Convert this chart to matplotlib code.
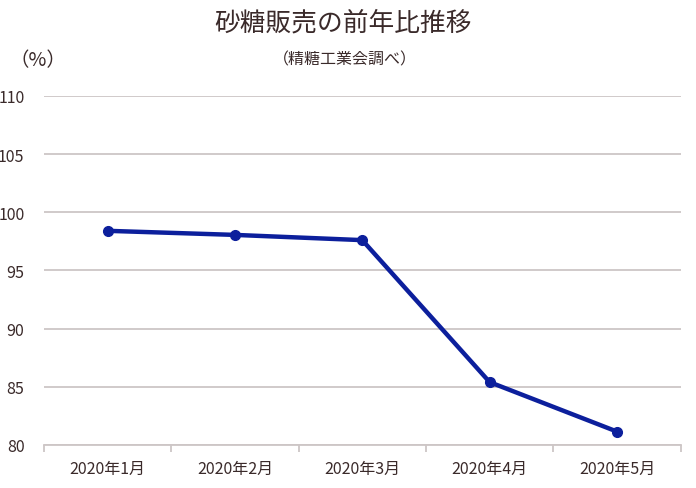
import matplotlib
matplotlib.use("Agg")
from matplotlib import pyplot as plt
import numpy as np

plt.rcParams['font.family'] = ['Noto Sans CJK JP', 'DejaVu Sans']

months = ["2020年1月", "2020年2月", "2020年3月", "2020年4月", "2020年5月"]
values = [98.4, 98.05, 97.6, 85.4, 81.15]
yticks = [80, 85, 90, 95, 100, 105, 110]

text_color = "#3a2a2a"
grid_color = "#cdc6c6"
line_color = "#0c1f9c"

fig = plt.figure(figsize=(6.96, 4.89), dpi=100)
ax = fig.add_axes([0.063, 0.088, 0.915, 0.714])

x = np.arange(len(months))
ax.plot(x, values, color=line_color, lw=3.2, marker="o", ms=7, zorder=3)

ax.set_xlim(-0.5, len(months) - 0.5)
ax.set_ylim(80, 110)
ax.set_yticks(yticks)
ax.set_yticklabels([str(v) for v in yticks], fontsize=11.5, color=text_color)
ax.yaxis.grid(True, color=grid_color, lw=1.3)
ax.set_axisbelow(True)
ax.tick_params(axis="y", length=0, pad=14)

ax.set_xticks(x)
ax.set_xticklabels(months, fontsize=11.5, color=text_color)
ax.tick_params(axis="x", length=0, pad=11)
# boundary ticks
ax.set_xticks(np.arange(-0.5, len(months)), minor=True)
ax.tick_params(axis="x", which="minor", length=5, color=grid_color, width=1.3)

for s in ["top", "right", "left"]:
    ax.spines[s].set_visible(False)
ax.spines["bottom"].set_color(grid_color)
ax.spines["bottom"].set_linewidth(1.3)

fig.text(0.493, 0.952, "砂糖販売の前年比推移", ha="center", va="center", fontsize=18.5, color=text_color)
fig.text(0.495, 0.878, "（精糖工業会調べ）", ha="center", va="center", fontsize=11.5, color=text_color)
fig.text(0.054, 0.876, "（%）", ha="center", va="center", fontsize=14, color=text_color)

fig.savefig("out.png", dpi=100)
